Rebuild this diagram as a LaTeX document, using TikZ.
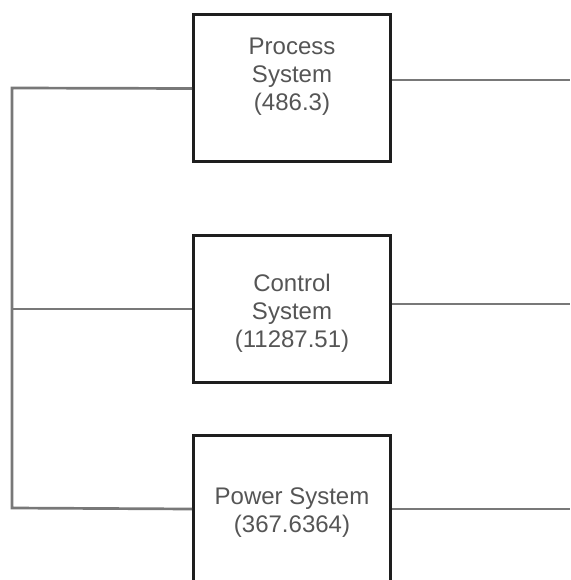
\documentclass[tikz,border=0pt]{standalone}
\usepackage{fontspec}
\setmainfont{Liberation Sans}
\usetikzlibrary{calc, math}
\definecolor{wiregray}{RGB}{120,120,120}
\definecolor{textgray}{RGB}{85,85,85}
\definecolor{boxblack}{RGB}{30,30,30}

\begin{document}
\begin{tikzpicture}[x=1pt,y=-1pt,
  sysbox/.style={draw=boxblack,line width=3pt,minimum width=197pt,minimum height=147pt,inner sep=0pt},
  syslabel/.style={text=textgray,align=center,font=\fontsize{24}{28}\selectfont},
  wire/.style={draw=wiregray,line width=2.7pt}]
\tikzmath{
\W=570; \H=580; \bx=292;
}
\useasboundingbox (0,0) rectangle (\W,\H);
\clip (0,0) rectangle (\W,\H);

% the three subsystems
\node[sysbox] (proc) at (\bx,88.5) {};
\node[sysbox] (ctrl) at (\bx,309) {};
\node[sysbox] (pow) at (\bx,509) {};

\node[syslabel] (procT) at (\bx,77) {Process\\System\\(486.3)};
\node[syslabel] (ctrlT) at (\bx,313) {Control\\System\\(11287.51)};
\node[syslabel] (powT) at (\bx,513) {Power System\\(367.6364)};

% left bus
\coordinate (busT) at (12,88);
\coordinate (busB) at (12,508);
\draw[wire] (proc.west) -- (busT) -- (busB) -- (pow.west);
\draw[wire] (ctrl.west) -- (ctrl.west -| busT);

% outputs on the right
\coordinate (procR) at (\W,80);
\coordinate (ctrlR) at (\W,304);
\coordinate (powR) at (\W,509);
\draw[wire] (proc.east |- procR) -- (procR);
\draw[wire] (ctrl.east |- ctrlR) -- (ctrlR);
\draw[wire] (pow.east |- powR) -- (powR);
\end{tikzpicture}
\end{document}
